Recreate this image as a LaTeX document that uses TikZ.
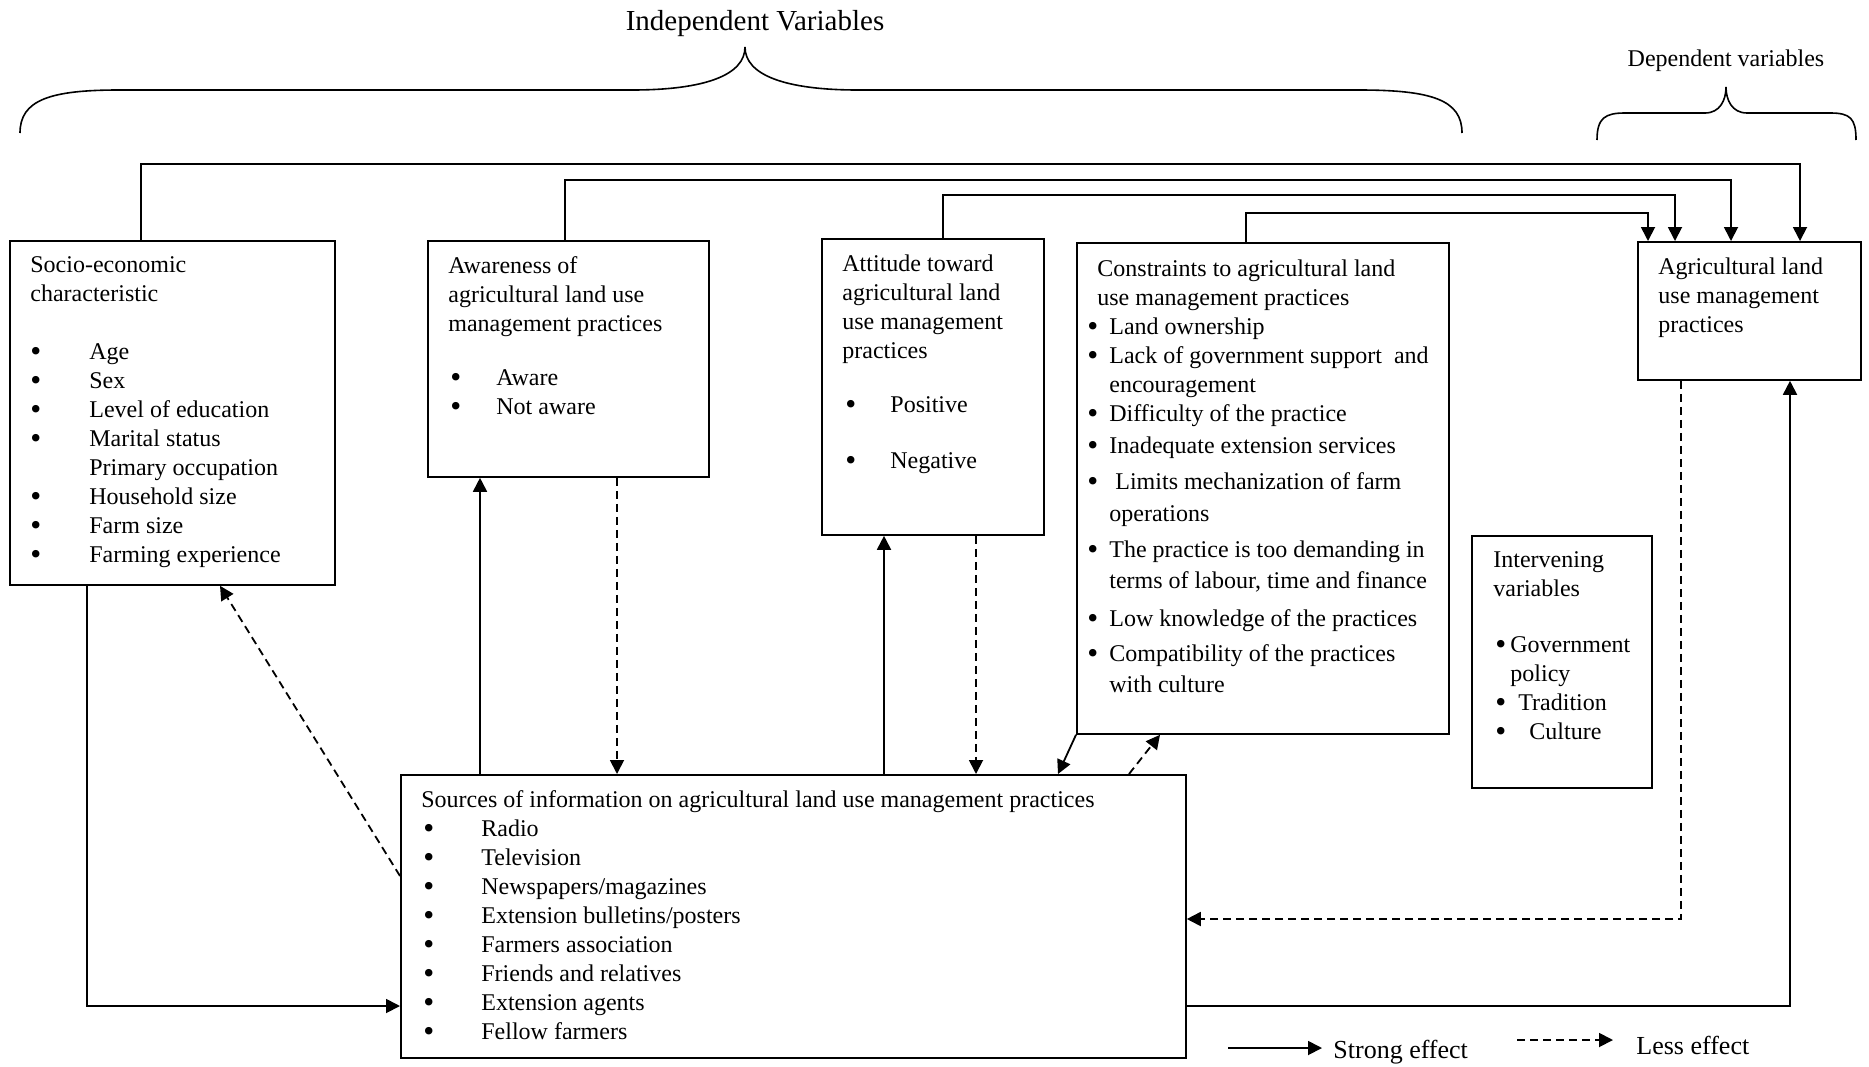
\documentclass[tikz,border=0pt]{standalone}
\usepackage{fontspec}
\usepackage{graphicx}
\setmainfont{Liberation Serif}
\usetikzlibrary{arrows.meta,calc}

\newcommand{\bul}[1]{\makebox[#1][l]{\raisebox{-1.1pt}{\scalebox{1.3}{\textbullet}}}}

\begin{document}
\begin{tikzpicture}[
  x=0.5pt, y=-0.5pt,
  box/.style={draw, line width=0.9pt, inner sep=0pt, anchor=north west},
  txt/.style={font=\fontsize{12pt}{14.5pt}\selectfont, align=left,
              anchor=north west, inner sep=0pt},
  strong/.style={line width=0.9pt, -{Triangle[length=7pt,width=7pt]}},
  less/.style={strong, dash pattern=on 4pt off 2.5pt},
  plain/.style={line width=0.8pt}
]
\useasboundingbox (0,0) rectangle (1869,1066);

% braces and group labels
\node[font=\fontsize{14.5pt}{16pt}\selectfont, inner sep=0pt] (indep) at (755,24)
  {Independent Variables};
\node[font=\fontsize{12pt}{14pt}\selectfont, inner sep=0pt] (dep) at (1726,61)
  {Dependent variables};
\draw[plain] (20,133) .. controls (20,100) and (50,90) .. (119,90) -- (632,90)
  .. controls (705,90) and (745,75) .. (745,47)
  .. controls (745,75) and (785,90) .. (858,90) -- (1359,90)
  .. controls (1432,90) and (1462,100) .. (1462,133);
\draw[plain] (1597,140) .. controls (1597,118) and (1605,113) .. (1625,113) -- (1705,113)
  .. controls (1720,113) and (1726,100) .. (1726,87)
  .. controls (1726,100) and (1732,113) .. (1747,113) -- (1830,113)
  .. controls (1850,113) and (1856,118) .. (1856,140);

% boxes
\node[box, minimum width=162.5pt, minimum height=172pt] (socio) at (9,240) {};
\node[box, minimum width=140.5pt, minimum height=118pt] (aware) at (427,240) {};
\node[box, minimum width=111pt, minimum height=148pt] (attitude) at (821,238) {};
\node[box, minimum width=186pt, minimum height=245.5pt] (constr) at (1076,242) {};
\node[box, minimum width=111.5pt, minimum height=69pt] (agric) at (1637,241) {};
\node[box, minimum width=90pt, minimum height=126pt] (interv) at (1471,535) {};
\node[box, minimum width=392.5pt, minimum height=141.5pt] (sources) at (400,774) {};

% box texts
\node[txt] (sociotxt) at ($(socio.north west)+(21,16)$) {Socio-economic\\
  characteristic\\[14.5pt]
  \bul{29.5pt}Age\\
  \bul{29.5pt}Sex\\
  \bul{29.5pt}Level of education\\
  \bul{29.5pt}Marital status\\
  \hspace*{29.5pt}Primary occupation\\
  \bul{29.5pt}Household size\\
  \bul{29.5pt}Farm size\\
  \bul{29.5pt}Farming experience};
\node[txt] (awaretxt) at ($(aware.north west)+(21,16)$) {Awareness of\\
  agricultural land use\\
  management practices\\[12.5pt]
  \hspace*{1pt}\bul{23pt}Aware\\
  \hspace*{1pt}\bul{23pt}Not aware};
\node[txt] (attitudetxt) at ($(attitude.north west)+(21,16)$) {Attitude toward\\
  agricultural land\\
  use management\\
  practices\\[12.5pt]
  \hspace*{1.5pt}\bul{22.5pt}Positive\\[13.5pt]
  \hspace*{1.5pt}\bul{22.5pt}Negative};
\node[txt] (constrtxt) at ($(constr.north west)+(11,17)$) {\hspace*{5pt}Constraints to agricultural land\\
  \hspace*{5pt}use management practices\\
  \bul{11pt}Land ownership\\
  \bul{11pt}Lack of government support \ and\\
  \hspace*{11pt}encouragement\\
  \bul{11pt}Difficulty of the practice\\[1.5pt]
  \bul{11pt}Inadequate extension services\\[3.5pt]
  \bul{11pt}\hspace{3pt}Limits mechanization of farm\\[1.5pt]
  \hspace*{11pt}operations\\[3.5pt]
  \bul{11pt}The practice is too demanding in\\[1pt]
  \hspace*{11pt}terms of labour, time and finance\\[4.5pt]
  \bul{11pt}Low knowledge of the practices\\[3pt]
  \bul{11pt}Compatibility of the practices\\[1pt]
  \hspace*{11pt}with culture};
\node[txt] (agrictxt) at ($(agric.north west)+(21,16)$) {Agricultural land\\
  use management\\
  practices};
\node[txt] (intervtxt) at ($(interv.north west)+(22,16)$) {Intervening\\
  variables\\[13.5pt]
  \hspace*{1pt}\bul{7.5pt}Government\\
  \hspace*{8.5pt}policy\\
  \hspace*{1pt}\bul{11.5pt}Tradition\\
  \hspace*{1pt}\bul{17pt}Culture};
\node[txt] (sourcestxt) at ($(sources.north west)+(21,16)$)
  {Sources of information on agricultural land use management practices\\
  \hspace*{1pt}\bul{29pt}Radio\\
  \hspace*{1pt}\bul{29pt}Television\\
  \hspace*{1pt}\bul{29pt}Newspapers/magazines\\
  \hspace*{1pt}\bul{29pt}Extension bulletins/posters\\
  \hspace*{1pt}\bul{29pt}Farmers association\\
  \hspace*{1pt}\bul{29pt}Friends and relatives\\
  \hspace*{1pt}\bul{29pt}Extension agents\\
  \hspace*{1pt}\bul{29pt}Fellow farmers};

% independent variables -> practices
\foreach \src/\dx/\up/\ax in {socio/132/76/163, aware/138/60/94,
                               attitude/122/43/38, constr/170/29/11}
  \draw[strong] ($(\src.north west)+(\dx,0)$) -- ++(0,-\up)
    -| ($(agric.north west)+(\ax,0)$);

% links with the sources of information
\draw[strong] ($(socio.south west)+(78,0)$) |- ($(sources.north west)+(0,232)$);
\draw[less] ($(sources.north west)+(0,102)$) -- ($(socio.south west)+(211,0)$);
\draw[strong] ($(sources.north west)+(80,0)$) -- ($(aware.south west)+(53,0)$);
\draw[less] ($(aware.south west)+(190,0)$) -- ($(sources.north west)+(217,0)$);
\draw[strong] ($(sources.north west)+(484,0)$) -- ($(attitude.south west)+(63,0)$);
\draw[less] ($(attitude.south west)+(155,0)$) -- ($(sources.north west)+(576,0)$);
\draw[strong] (constr.south west) -- ($(sources.north west)+(658,0)$);
\draw[less] ($(sources.north west)+(729,0)$) -- ($(constr.south west)+(84,0)$);
\draw[strong] ($(sources.north east)+(0,232)$) -| ($(agric.south west)+(153,0)$);
\draw[less] ($(agric.south west)+(44,0)$) |- ($(sources.north east)+(0,145)$);

% key
\node[anchor=west, inner sep=0pt, font=\fontsize{13pt}{15pt}\selectfont]
  (strongkey) at (1333,1052) {Strong effect};
\node[anchor=west, inner sep=0pt, font=\fontsize{13pt}{15pt}\selectfont]
  (lesskey) at (1636,1045) {Less effect};
\draw[strong] ($(strongkey.west)+(-105,-4)$) -- ($(strongkey.west)+(-11,-4)$);
\draw[less] ($(lesskey.west)+(-119,-5)$) -- ($(lesskey.west)+(-23,-5)$);
\end{tikzpicture}
\end{document}
